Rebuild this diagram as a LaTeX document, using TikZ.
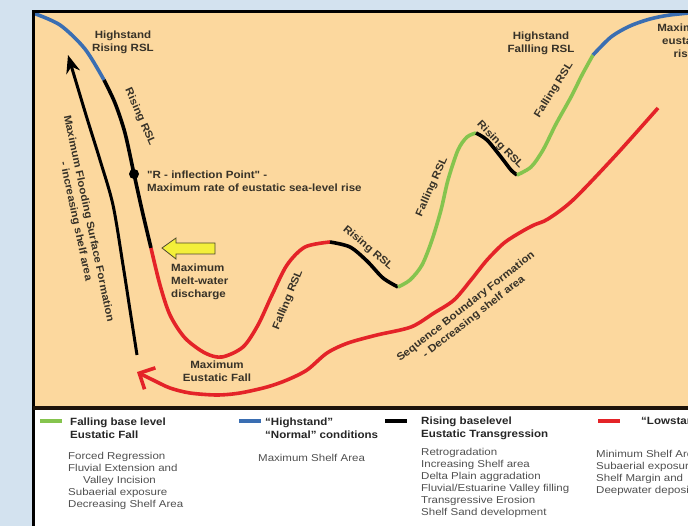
\documentclass[tikz,border=0pt]{standalone}
\usepackage{fontspec}
\newfontfamily\lblfont[FakeStretch=1.1]{Liberation Sans}
\newfontfamily\txtfont[FakeStretch=1.15]{Liberation Sans}
\usetikzlibrary{arrows.meta, positioning}
\definecolor{shelf}{RGB}{252,216,158}
\definecolor{sky}{RGB}{211,226,239}
\definecolor{rslblue}{RGB}{58,110,178}
\definecolor{rslgreen}{RGB}{133,196,78}
\definecolor{rslred}{RGB}{228,35,40}
\definecolor{ink}{RGB}{55,50,40}
\definecolor{greytext}{RGB}{80,80,80}
\definecolor{melt}{RGB}{243,239,58}

\begin{document}
\begin{tikzpicture}[
    x=1pt, y=-1pt,
    rsl/.style={line width=3.6pt},
    lbl/.style={text=ink, font=\lblfont\bfseries\fontsize{10.5}{13}\selectfont, inner sep=0pt, align=center},
    legtitle/.style={text=black!85, font=\lblfont\bfseries\fontsize{10.5}{13}\selectfont, inner sep=0pt, align=left, anchor=west},
    legtext/.style={text=greytext, font=\txtfont\fontsize{10}{12}\selectfont, inner sep=0pt, align=left, anchor=west},
    swatch/.style={minimum width=22pt, minimum height=3.5pt, inner sep=0pt}
  ]
  \clip (0,0) rectangle (688,526);
  \fill[sky] (0,0) rectangle (688,526);
  \fill[shelf] (34,12) rectangle (690,407);
  \fill[white] (34,409) rectangle (690,526);

  % relative sea-level curve
  \draw[rsl, rslblue] plot[smooth] coordinates {(33,13) (60,25) (85,49) (104,80)};
  \draw[rsl, black] plot[smooth] coordinates {(104,80) (115,103) (125,133) (134,174) (142,210) (151,248)};
  \draw[rsl, rslred] plot[smooth] coordinates {(151,248) (160,285) (170,315) (185,338) (205,353) (222,357) (243,347) (258,325) (272,295) (287,265) (305,247) (330,242)};
  \draw[rsl, black] plot[smooth] coordinates {(330,242) (350,247) (367,261) (383,278) (398,287)};
  \draw[rsl, rslgreen] plot[smooth] coordinates {(398,287) (410,280) (422,265) (432,240) (441,210) (448,180) (458,150) (467,137) (476,133)};
  \draw[rsl, black] plot[smooth] coordinates {(476,133) (487,140) (501,157) (511,170) (517,175)};
  \draw[rsl, rslgreen] plot[smooth] coordinates {(517,175) (531,167) (543,150) (556,124) (571,97) (582,75) (593,55)};
  \draw[rsl, rslblue] plot[smooth] coordinates {(593,55) (611,37) (630,26) (650,19) (670,15) (700,12)};
  \node[circle, fill=black, minimum size=10pt, inner sep=0pt] (rpt) at (134,174) {};

  % flooding and sequence boundary arrows
  \draw[line width=3pt, -{Stealth[length=18pt,width=14pt]}] plot[smooth] coordinates {(137,355) (130,310) (123,265) (113,205) (100,160) (86,115) (68,55)};
  \draw[rsl, rslred, -{Straight Barb[length=12pt,width=24pt]}] plot[smooth] coordinates {(658,108) (616,155) (573,200) (548,219) (534,225) (521,232) (504,243) (487,260) (471,280) (454,300) (434,313) (411,327) (377,335) (348,343) (327,353) (307,370) (287,380) (267,387) (240,393) (217,395) (190,393) (170,388) (153,380) (137,372)};
  \draw[fill=melt, draw=black!60!olive, line width=0.8pt] (162,248) -- (176,238) -- (176,243) -- (215,243) -- (215,254) -- (176,254) -- (176,259) -- cycle;

  \node[lbl] (hsrise) at (123,42) {Highstand\\Rising RSL};
  \node[lbl, rotate=-66] (rise1) at (140,117) {Rising RSL};
  \node[lbl, align=left, anchor=west] (rinfl) at (147,181) {"R - inflection Point" -\\Maximum rate of eustatic sea-level rise};
  \node[lbl, align=left, anchor=west] (meltw) at (171,282) {Maximum\\Melt-water\\discharge};
  \node[lbl] (maxfall) at (217,371) {Maximum\\Eustatic Fall};
  \node[lbl, rotate=68] (fall1) at (288,300) {Falling RSL};
  \node[lbl, rotate=-40] (rise2) at (368,248) {Rising RSL};
  \node[lbl, rotate=66] (fall2) at (432,187) {Falling RSL};
  \node[lbl, rotate=-46] (rise3) at (500,145) {Rising RSL};
  \node[lbl, rotate=58] (fall3) at (554,90) {Falling RSL};
  \node[lbl] (hsfall) at (541,43) {Highstand\\Fallling RSL};
  \node[lbl] (maxrise) at (684,41) {Maximum\\eustatic\\rise};
  \node[lbl, rotate=-78] (mfs) at (82,220) {Maximum Flooding Surface Formation\\- increasing shelf area};
  \node[lbl, rotate=38] (sb) at (470,312) {Sequence Boundary Formation\\- Decreasing shelf area};

  % frame
  \draw[line width=3pt] (33,526) -- (33,12) -- (690,12);
  \draw[line width=4pt, black!85!brown] (33,408) -- (690,408);

  % legend
  \node[swatch, fill=rslgreen] (swfall) at (51,421) {};
  \node[legtitle] (tfall) at (70,428) {Falling base level\\Eustatic Fall};
  \node[legtext] (dfall) at (68,481) {Forced Regression\\Fluvial Extension and\\\hspace*{15pt}Valley Incision\\Subaerial exposure\\Decreasing Shelf Area};
  \node[swatch, fill=rslblue] (swhigh) at (250,421) {};
  \node[legtitle] (thigh) at (265,428) {“Highstand”\\“Normal” conditions};
  \node[legtext] (dhigh) at (258,458) {Maximum Shelf Area};
  \node[swatch, fill=black] (swrise) at (396,421) {};
  \node[legtitle] (trise) at (421,428) {Rising baselevel\\Eustatic Transgression};
  \node[legtext] (drise) at (421,483) {Retrogradation\\Increasing Shelf area\\Delta Plain aggradation\\Fluvial/Estuarine Valley filling\\Transgressive Erosion\\Shelf Sand development};
  \node[swatch, fill=rslred] (swlow) at (609,421) {};
  \node[legtitle] (tlow) at (641,421) {“Lowstand”};
  \node[legtext] (dlow) at (596,473) {Minimum Shelf Area\\Subaerial exposure\\Shelf Margin and\\Deepwater deposits};
\end{tikzpicture}
\end{document}
